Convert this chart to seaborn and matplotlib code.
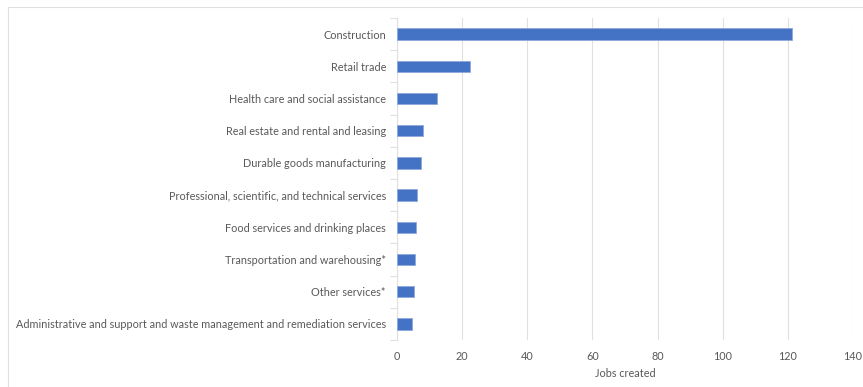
import matplotlib
matplotlib.use("Agg")
import matplotlib.pyplot as plt
import seaborn as sns
import pandas as pd
from matplotlib.patches import Rectangle

industries = [
    "Construction",
    "Retail trade",
    "Health care and social assistance",
    "Real estate and rental and leasing",
    "Durable goods manufacturing",
    "Professional, scientific, and technical services",
    "Food services and drinking places",
    "Transportation and warehousing*",
    "Other services*",
    "Administrative and support and waste management and remediation services",
]
jobs_created = [121.4, 22.4, 12.3, 8.0, 7.3, 6.1, 5.8, 5.4, 5.1, 4.5]
x_ticks = [0, 20, 40, 60, 80, 100, 120, 140]

df = pd.DataFrame({"industry": industries, "jobs": jobs_created})

sns.set_theme(style="white")
plt.rcParams["font.family"] = ["Lato", "DejaVu Sans"]
text_gray = "#595959"
grid_gray = "#e0e0e0"

fig = plt.figure(figsize=(8.63, 3.87), dpi=100)
ax = fig.add_axes([397 / 863, 1 - 340 / 387, (853 - 397) / 863, (340 - 18) / 387])

sns.barplot(data=df, x="jobs", y="industry", orient="h", width=0.35,
            color="#4472C4", saturation=1, edgecolor="#8eaadb", linewidth=0.6,
            ax=ax, zorder=3)

ax.set_xlim(0, 140)
ax.set_xticks(x_ticks)
ax.set_xticklabels([str(t) for t in x_ticks])
ax.set_ylim(len(industries) - 0.5, -0.5)
ax.grid(axis="x", color=grid_gray, linewidth=0.8, zorder=0)
ax.grid(axis="y", visible=False)

for side in ["top", "right", "bottom"]:
    ax.spines[side].set_visible(False)
ax.spines["left"].set_color(grid_gray)
ax.spines["left"].set_linewidth(0.8)

# category separators on the value axis
ax.set_yticks([i + 0.5 for i in range(-1, len(industries))], minor=True)
ax.tick_params(axis="y", which="minor", length=5, color=grid_gray, width=0.8, left=True)
ax.tick_params(axis="y", which="major", length=0, pad=8, labelsize=7.85, labelcolor=text_gray)
ax.tick_params(axis="x", which="major", length=0, pad=8, labelsize=7.85, labelcolor=text_gray)

ax.set_ylabel("")
ax.set_xlabel("Jobs created", fontsize=7.85, color=text_gray, labelpad=4)

# outer chart frame
fig.patches.append(Rectangle((8 / 863, -0.05), 1.0, 1 - 7 / 387 + 0.05,
                             transform=fig.transFigure, fill=False,
                             edgecolor=grid_gray, linewidth=0.8))

fig.savefig("out.png", dpi=100, facecolor="white")
